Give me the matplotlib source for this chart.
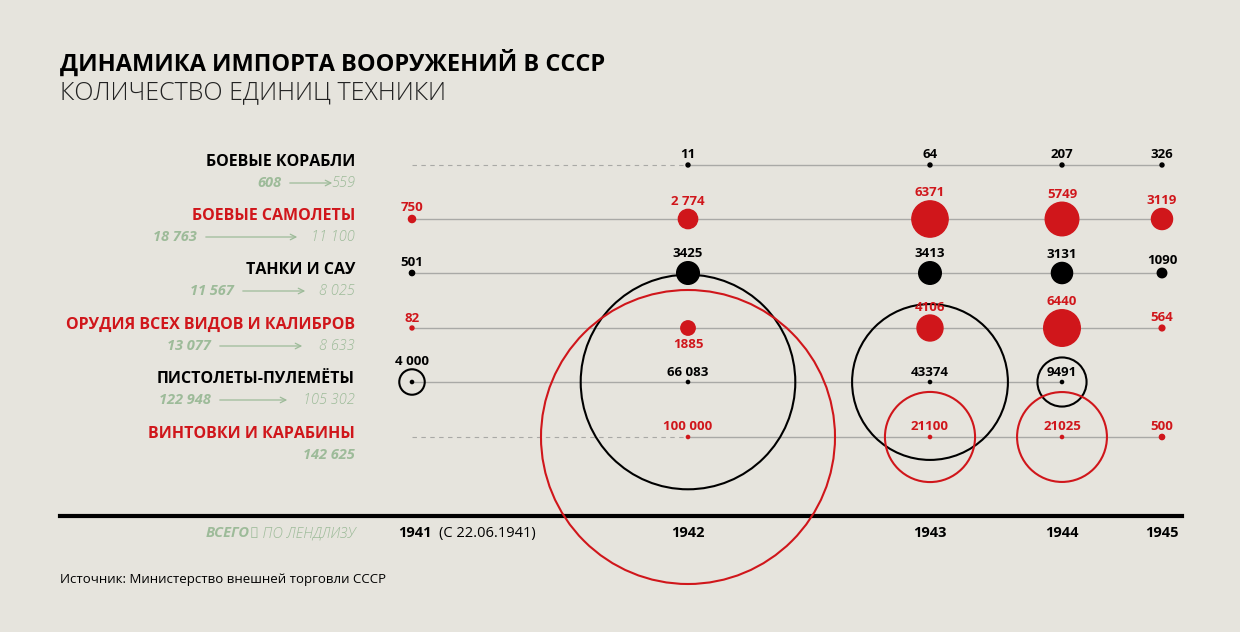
import matplotlib
matplotlib.use("Agg")
import matplotlib.pyplot as plt
from matplotlib.patches import Circle

categories = ["БОЕВЫЕ КОРАБЛИ", "БОЕВЫЕ САМОЛЕТЫ", "ТАНКИ И САУ",
              "ОРУДИЯ ВСЕХ ВИДОВ И КАЛИБРОВ", "ПИСТОЛЕТЫ-ПУЛЕМЁТЫ", "ВИНТОВКИ И КАРАБИНЫ"]
years = ["1941", "1942", "1943", "1944", "1945"]
values = [
    [None, 11, 64, 207, 326],
    [750, 2774, 6371, 5749, 3119],
    [501, 3425, 3413, 3131, 1090],
    [82, 1885, 4106, 6440, 564],
    [4000, 66083, 43374, 9491, None],
    [None, 100000, 21100, 21025, 500],
]
value_labels = [
    [None, "11", "64", "207", "326"],
    ["750", "2 774", "6371", "5749", "3119"],
    ["501", "3425", "3413", "3131", "1090"],
    ["82", "1885", "4106", "6440", "564"],
    ["4 000", "66 083", "43374", "9491", None],
    [None, "100 000", "21100", "21025", "500"],
]
total_all = ["608", "18 763", "11 567", "13 077", "122 948", "142 625"]
total_lendlease = ["559", "11 100", "8 025", "8 633", "105 302", None]

BG = "#e6e4dd"; RED = "#d0161b"; GREEN = "#9dbb99"; GRAY = "#a9a9a6"
row_colors = ["black", RED, "black", RED, "black", RED]
open_rows = [False, False, False, False, True, True]

# layout
xpos = [412, 688, 930, 1062, 1162]
ypos = [165, 219, 273, 328, 382, 437]
arrows = [(287, 335), (203, 300), (240, 308), (217, 305), (217, 290), None]
FONT = "Open Sans"

fig = plt.figure(figsize=(12.4, 6.32), dpi=100, facecolor=BG)
ax = fig.add_axes([0, 0, 1, 1])
ax.set_xlim(0, 1240); ax.set_ylim(632, 0); ax.axis("off")
ax.set_facecolor(BG)

ax.text(60, 63, "ДИНАМИКА ИМПОРТА ВООРУЖЕНИЙ В СССР", fontsize=17, fontweight="bold",
        family=FONT, va="center", ha="left")
ax.text(60, 93, "КОЛИЧЕСТВО ЕДИНИЦ ТЕХНИКИ", fontsize=18, family=FONT,
        fontweight="light", va="center", ha="left", color="#222")

k = 147 / 100000 ** 0.76
for i, cat in enumerate(categories):
    y = ypos[i]; col = row_colors[i]
    ax.text(355, y - 3, cat, ha="right", va="center", fontsize=11.5, fontweight="bold",
            color=col, family=FONT)
    if total_lendlease[i] is None:
        ax.text(355, y + 18, total_all[i], ha="right", va="center", fontsize=10.5,
                fontweight="bold", style="italic", color=GREEN, family=FONT)
    else:
        a0, a1 = arrows[i]
        ax.text(355, y + 18, total_lendlease[i], ha="right", va="center", fontsize=10.5,
                style="italic", color=GREEN, family=FONT, fontweight="light")
        ax.text(a0 - 6, y + 18, total_all[i], ha="right", va="center", fontsize=10.5,
                fontweight="bold", style="italic", color=GREEN, family=FONT)
        ax.annotate("", xy=(a1, y + 18), xytext=(a0, y + 18),
                    arrowprops=dict(arrowstyle="->", color=GREEN, lw=0.9))
    present = [j for j, v in enumerate(values[i]) if v is not None]
    first, last = present[0], present[-1]
    if first > 0:
        ax.plot([xpos[0], xpos[first]], [y, y], color=GRAY, lw=0.8, ls=(0, (4, 4)), zorder=1)
    ax.plot([xpos[first], xpos[last]], [y, y], color=GRAY, lw=1.0, zorder=1)
    for j in present:
        v = values[i][j]
        r = max(2.0, k * v ** 0.76)
        x = xpos[j]
        if open_rows[i] and r > 3:
            ax.add_patch(Circle((x, y), r, fill=False, ec=col, lw=1.5, zorder=3))
            ax.add_patch(Circle((x, y), 1.6, color=col, zorder=4))
        else:
            ax.add_patch(Circle((x, y), r, color=col, zorder=3))
        lab = value_labels[i][j]
        if i == 3 and j == 1:
            ly = y + r + 9
        elif i == 4 and j > 0:
            ly = y - 9
        elif i == 5:
            ly = y - 11
        else:
            ly = y - max(r, 2) - 8
        ax.text(x, ly, lab, ha="center", va="center", fontsize=9.5, fontweight="bold",
                color=col, family=FONT, zorder=5)

ax.plot([60, 1182], [516, 516], color="black", lw=3, zorder=2)
ax.text(355, 533, "→ ПО ЛЕНДЛИЗУ", ha="right", va="center", fontsize=10.5, style="italic",
        fontweight="light", color=GREEN, family=FONT)
ax.text(250, 533, "ВСЕГО", ha="right", va="center", fontsize=10.5, style="italic",
        fontweight="bold", color=GREEN, family=FONT)
for j, yr in enumerate(years):
    if j == 0:
        ax.text(398, 533, yr, ha="left", va="center", fontsize=10.5, fontweight="bold", family=FONT)
        ax.text(439, 533, "(С 22.06.1941)", ha="left", va="center", fontsize=10.5, family=FONT)
    else:
        ax.text(xpos[j], 533, yr, ha="center", va="center", fontsize=10.5,
                fontweight="bold", family=FONT, zorder=5)
ax.text(60, 580, "Источник: Министерство внешней торговли СССР", ha="left", va="center",
        fontsize=9.5, family=FONT)

fig.savefig("out.png", dpi=100, facecolor=BG)
